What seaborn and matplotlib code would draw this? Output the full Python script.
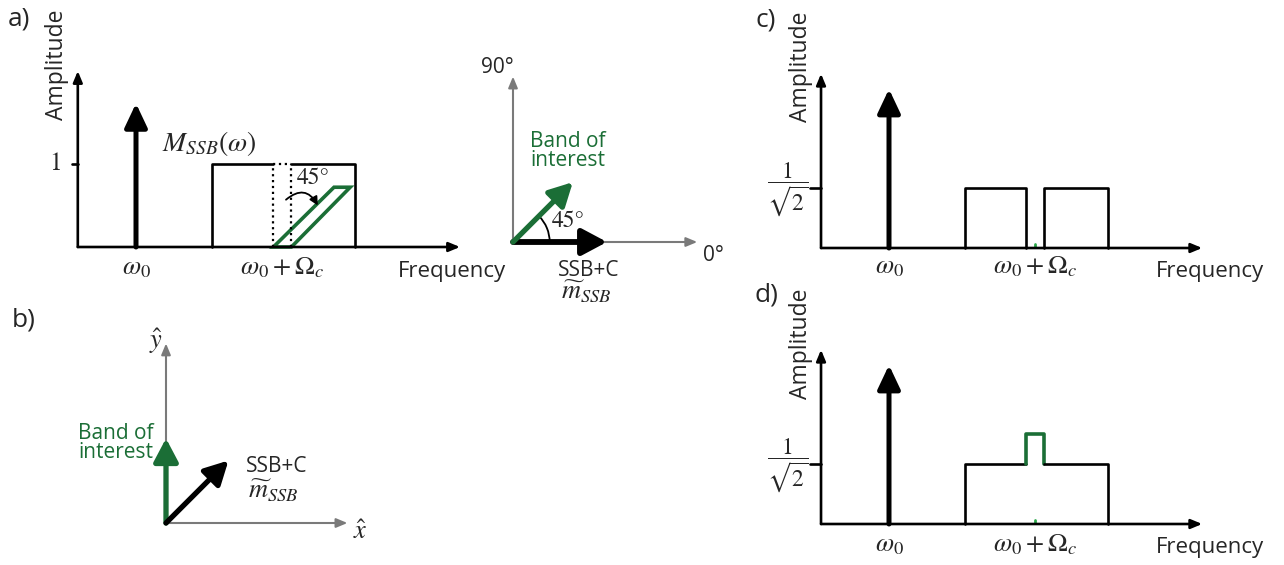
import matplotlib
matplotlib.use("Agg")
import matplotlib.pyplot as plt
import seaborn as sns
import numpy as np
from matplotlib.patches import Arc, Polygon

sns.set_theme(style="white")
plt.rcParams["font.family"] = ["Open Sans", "DejaVu Sans"]
plt.rcParams["mathtext.fontset"] = "stix"

# ---------------- data ----------------
panel_labels = ["a)", "b)", "c)", "d)"]
carrier_freq = 1.0
carrier_amp_a = 1.73
carrier_amp_cd = 1.87
band_lo, band_hi = 2.27, 4.65
boi_lo, boi_hi = 3.29, 3.59
band_center = 3.44
amp_a = 1.0
amp_cd = 1 / np.sqrt(2)
boi_peak_d = 1.06
rot_top_x = [4.3, 4.57]
rot_top_h = 0.72
rot_angle = 45
phasor_ssb_len, phasor_boi_len, phasor_boi_angle = 1.0, 0.9, 45
b_ssb_len, b_ssb_angle = 0.94, 45
b_boi_len, b_boi_angle = 0.9, 90
freq_ticklabels = [r"$\omega_0$", r"$\omega_0+\Omega_c$"]
amp_ticklabel_a = "1"
amp_ticklabel_cd = r"$\dfrac{1}{\sqrt{2}}$"
xlabel, ylabel = "Frequency", "Amplitude"
boi_text = "Band of\ninterest"
ssb_text = "SSB+C"
ssb_sym = r"$\widetilde{m}_{SSB}$"
mssb_text = r"$M_{SSB}(\omega)$"

GREEN = "#1b6e36"
GRAY = "#7a7a7a"
W, H = 1284, 565
fig = plt.figure(figsize=(W / 100, H / 100), dpi=100)


def make_ax(origin_px, origin_data, sx, sy, xlim, ylim):
    ox, oy = origin_px
    dx0, dy0 = origin_data
    l = ox + (xlim[0] - dx0) * sx
    r = ox + (xlim[1] - dx0) * sx
    b = oy - (ylim[0] - dy0) * sy
    t = oy - (ylim[1] - dy0) * sy
    ax = fig.add_axes([l / W, 1 - b / H, (r - l) / W, (b - t) / H])
    ax.set_xlim(*xlim)
    ax.set_ylim(*ylim)
    ax.axis("off")
    ax.patch.set_visible(False)
    return ax


def arrow(ax, start, end, color, lw, hl, hw, ms):
    ax.annotate("", xy=end, xytext=start,
                arrowprops=dict(arrowstyle=f"-|>,head_length={hl},head_width={hw}",
                                lw=lw, color=color, mutation_scale=ms,
                                shrinkA=0, shrinkB=0))


def ftext(x, y, s, **kw):
    fig.text(x / W, 1 - y / H, s, ha=kw.pop("ha", "center"), va=kw.pop("va", "center"), **kw)


def path(ax, xs, ys, color="black", lw=1.9, ls="-"):
    sns.lineplot(x=xs, y=ys, sort=False, estimator=None, color=color, lw=lw,
                 linestyle=ls, ax=ax)


def freq_axes(ax, axis_x, x_end, y_top, carrier_h, label_dy):
    arrow(ax, (axis_x, 0), (x_end, 0), "black", 1.9, 0.6, 0.25, 11)
    arrow(ax, (axis_x, 0), (axis_x, y_top), "black", 1.9, 0.6, 0.25, 11)
    arrow(ax, (carrier_freq, 0), (carrier_freq, carrier_h), "black", 3.6, 0.72, 0.34, 20)
    for xv, lab in zip([carrier_freq, band_center], freq_ticklabels):
        ax.annotate(lab, xy=(xv, 0), xytext=(0, -label_dy), textcoords="offset pixels",
                    ha="center", va="center", fontsize=19)


# ---------------- panel a ----------------
ax = make_ax((136, 247), (1, 0), 60, 83, (-1.0, 6.9), (-0.7, 2.5))
axis_x = 0.03
freq_axes(ax, axis_x, 6.4, 2.12, carrier_amp_a, 21)
ax.plot([axis_x - 0.09, axis_x], [amp_a, amp_a], color="black", lw=1.9)
ax.annotate(amp_ticklabel_a, xy=(axis_x, amp_a), xytext=(-22, 0), textcoords="offset pixels",
            ha="center", va="center", fontsize=18, family="STIXGeneral")
path(ax, [band_lo, band_lo, boi_lo], [0, amp_a, amp_a])
path(ax, [boi_hi, band_hi, band_hi], [amp_a, amp_a, 0])
path(ax, [boi_lo, boi_hi], [amp_a, amp_a], lw=1.6, ls=":")
path(ax, [boi_lo, boi_lo], [0, amp_a], lw=1.6, ls=":")
path(ax, [boi_hi, boi_hi], [0, amp_a], lw=1.6, ls=":")
ax.add_patch(Polygon([(boi_lo, 0), (boi_hi, 0), (rot_top_x[1], rot_top_h), (rot_top_x[0], rot_top_h)],
                     closed=True, fill=False, ec=GREEN, lw=2.6, joinstyle="miter"))
ax.annotate("", xy=(4.03, 0.5), xytext=(3.5, 0.57),
            arrowprops=dict(arrowstyle="-|>,head_length=0.5,head_width=0.25",
                            connectionstyle="arc3,rad=-0.6", lw=1.3, color="black",
                            mutation_scale=10, shrinkA=0, shrinkB=0))
ax.text(3.95, 0.83, f"{rot_angle}°", ha="center", va="center", fontsize=17, family="STIXGeneral")
ax.text(1.43, 1.25, mssb_text, ha="left", va="center", fontsize=20)
ftext(452, 272, xlabel, fontsize=16)
ftext(57, 65, ylabel, fontsize=16.5, rotation=90)
ftext(19, 19, panel_labels[0], fontsize=19)

# ---------------- phasor next to a ----------------
axp = make_ax((513, 242), (0, 0), 94, 94, (-0.5, 2.3), (-0.75, 1.95))
arrow(axp, (0, 0), (1.96, 0), GRAY, 1.5, 0.6, 0.25, 11)
arrow(axp, (0, 0), (0, 1.76), GRAY, 1.5, 0.6, 0.25, 11)
arrow(axp, (0, 0), (phasor_ssb_len, 0), "black", 4.2, 0.75, 0.4, 20)
ang = np.deg2rad(phasor_boi_angle)
arrow(axp, (0, 0), (phasor_boi_len * np.cos(ang), phasor_boi_len * np.sin(ang)), GREEN, 3.8, 0.7, 0.37, 20)
axp.add_patch(Arc((0, 0), 0.78, 0.78, theta1=0, theta2=phasor_boi_angle, lw=1.3, color="black"))
axp.text(0.585, 0.223, f"{phasor_boi_angle}°", ha="center", va="center", fontsize=17, family="STIXGeneral")
axp.text(-0.17, 1.86, "90°", ha="center", va="center", fontsize=15)
axp.text(2.13, -0.14, "0°", ha="center", va="center", fontsize=15)
axp.text(0.18, 0.97, boi_text, ha="left", va="center", fontsize=15, color=GREEN, linespacing=0.85)
axp.text(0.8, -0.3, ssb_text, ha="center", va="center", fontsize=15)
axp.text(0.78, -0.54, ssb_sym, ha="center", va="center", fontsize=19)

# ---------------- panel b ----------------
axb = make_ax((166, 523), (0, 0), 94, 94, (-1.2, 2.4), (-0.4, 2.1))
arrow(axb, (0, 0), (1.93, 0), GRAY, 1.5, 0.6, 0.25, 11)
arrow(axb, (0, 0), (0, 1.91), GRAY, 1.5, 0.6, 0.25, 11)
ab = np.deg2rad(b_boi_angle)
arrow(axb, (0, 0), (b_boi_len * np.cos(ab), b_boi_len * np.sin(ab)), GREEN, 3.8, 0.7, 0.37, 20)
asb = np.deg2rad(b_ssb_angle)
arrow(axb, (0, 0), (b_ssb_len * np.cos(asb), b_ssb_len * np.sin(asb)), "black", 3.8, 0.7, 0.37, 20)
axb.text(-0.106, 1.94, r"$\hat{y}$", ha="center", va="center", fontsize=19)
axb.text(2.07, -0.106, r"$\hat{x}$", ha="center", va="center", fontsize=19)
axb.text(-0.13, 0.85, boi_text, ha="right", va="center", fontsize=15, color=GREEN, linespacing=0.85)
axb.text(1.18, 0.6, ssb_text, ha="center", va="center", fontsize=15)
axb.text(1.14, 0.34, ssb_sym, ha="center", va="center", fontsize=19)
ftext(24, 320, panel_labels[1], fontsize=19)

# ---------------- panels c and d ----------------
for oy, variant, lab_dy, flab_y, alab_y, plab_y, plab in [
        (248, "c", 19, 272, 67, 20, panel_labels[2]),
        (524, "d", 21, 547, 344, 295, panel_labels[3])]:
    axc = make_ax((889, oy), (1, 0), 60, 85, (-1.2, 6.6), (-0.7, 2.3))
    axis_x = -0.133
    freq_axes(axc, axis_x, 6.22, 2.05, carrier_amp_cd, lab_dy)
    axc.plot([axis_x - 0.185, axis_x], [amp_cd, amp_cd], color="black", lw=1.9)
    axc.annotate(amp_ticklabel_cd, xy=(axis_x, amp_cd), xytext=(-33, -2), textcoords="offset pixels",
                 ha="center", va="center", fontsize=17)
    if variant == "c":
        path(axc, [band_lo, band_lo, boi_lo, boi_lo], [0, amp_cd, amp_cd, 0])
        path(axc, [boi_hi, boi_hi, band_hi, band_hi], [0, amp_cd, amp_cd, 0])
    else:
        path(axc, [band_lo, band_lo, boi_lo], [0, amp_cd, amp_cd])
        path(axc, [boi_lo, boi_lo, boi_hi, boi_hi], [amp_cd, boi_peak_d, boi_peak_d, amp_cd],
             color=GREEN, lw=2.6)
        path(axc, [boi_hi, band_hi, band_hi], [amp_cd, amp_cd, 0])
    path(axc, [band_center, band_center], [0.01, 0.05], color="#2aa84a", lw=2)
    ftext(1210, flab_y, xlabel, fontsize=16)
    ftext(801, alab_y, ylabel, fontsize=16.5, rotation=90)
    ftext(766, plab_y, plab, fontsize=19)

fig.savefig("out.png", dpi=100)
